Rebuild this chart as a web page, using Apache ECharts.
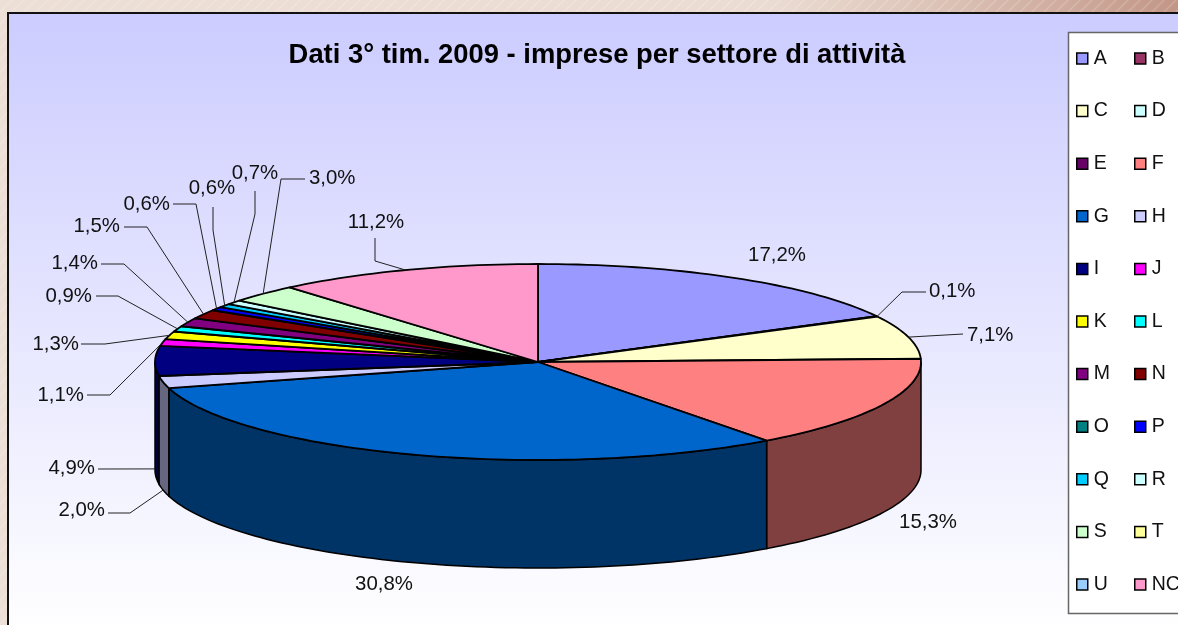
<!DOCTYPE html>
<html><head><meta charset="utf-8">
<style>html,body{margin:0;padding:0;background:#eadcd2}#c{width:1178px;height:625px}</style>
<script src="https://cdn.jsdelivr.net/npm/echarts@6/dist/echarts.min.js"></script>
</head><body><div id="c"></div>
<script>
const titleText = 'Dati 3° tim. 2009 - imprese per settore di attività';
const categories = ['A','B','C','D','E','F','G','H','I','J','K','L','M','N','O','P','Q','R','S','T','U','NC'];
const values = [17.2,0.1,7.1,0,0,15.3,30.8,2.0,4.9,1.1,1.3,0.9,1.4,1.5,0,0.6,0.6,0.7,3.0,0,0,11.2];
const colors = ['#9999ff','#993366','#ffffcc','#ccffff','#660066','#ff8080','#0066cc','#ccccff','#000080','#ff00ff','#ffff00','#00ffff','#800080','#800000','#008080','#0000ff','#00ccff','#ccffff','#ccffcc','#ffff99','#99ccff','#ff99cc'];
const wallColors = {F:'#804040',G:'#003366',H:'#666680',I:'#000040'};

// label placement: text anchor, leader bends, and whether the leader lands at the foot of the wall
const labelLayout = {
  A:{x:777,y:255,al:'center'},
  B:{x:929,y:291,al:'left',bend:[[926,292],[902,292]]},
  C:{x:967,y:335,al:'left',bend:[[963,334]]},
  F:{x:928,y:522,al:'center'},
  G:{x:384,y:584,al:'center'},
  H:{x:105,y:510,al:'right',bend:[[108,513],[130,513]],foot:1},
  I:{x:95,y:468,al:'right',bend:[[98,469]],foot:1},
  J:{x:84,y:395,al:'right',bend:[[87,395],[110,395]]},
  K:{x:79,y:344,al:'right',bend:[[81,344],[105,344]]},
  L:{x:92,y:296,al:'right',bend:[[96,296],[118,296]]},
  M:{x:98,y:263,al:'right',bend:[[101,264],[124,264]]},
  N:{x:120,y:226,al:'right',bend:[[124,227],[147,227]]},
  P:{x:170,y:204,al:'right',bend:[[173,204],[196,204]]},
  Q:{x:212,y:188,al:'center',bend:[[213,207],[213,230]]},
  R:{x:255,y:173,al:'center',bend:[[255,191],[255,214]]},
  S:{x:309,y:178,al:'left',bend:[[305,179],[281,179]]},
  NC:{x:376,y:222,al:'center',bend:[[375,238],[375,261]]}
};

const cx=538, cy=362, rx=383, ry=98, depth=108;
const total = values.reduce((a,b)=>a+b,0);
const starts=[]; { let c=0; values.forEach(v=>{starts.push(c/total*360); c+=v;}); }
const pt=(deg,dy=0)=>{const t=deg*Math.PI/180;return [cx+rx*Math.sin(t),cy-ry*Math.cos(t)+dy];};
const arcPts=(a,b,dy=0)=>{const n=Math.max(2,Math.ceil(Math.abs(b-a)/1.5));const r=[];for(let i=0;i<=n;i++)r.push(pt(a+(b-a)*i/n,dy));return r;};
const FONT='"Liberation Sans",Arial,sans-serif';

const stripe=document.createElement('canvas');stripe.width=stripe.height=12;
{const g=stripe.getContext('2d');g.strokeStyle='rgba(255,255,255,0.16)';g.lineWidth=1.6;
 g.beginPath();g.moveTo(-2,14);g.lineTo(14,-2);g.moveTo(-8,8);g.lineTo(8,-8);g.moveTo(4,20);g.lineTo(20,4);g.stroke();}

const series=[];
// walls
series.push({type:'custom',name:'_walls',coordinateSystem:'none',silent:true,z:2,animation:false,
 data:categories.map((c,i)=>[i,values[i]]),
 renderItem(p,api){
  const i=api.value(0),v=api.value(1);
  const a=Math.max(starts[i],90),b=Math.min(starts[i]+v/total*360,270);
  if(!(v>0)||b<=a) return {type:'group',children:[]};
  const top=arcPts(a,b),bot=arcPts(b,a,depth);
  return {type:'polygon',shape:{points:top.concat(bot)},style:{fill:wallColors[categories[i]]||colors[i],stroke:'#000',lineWidth:1.5}};
 }});
// top faces (one series per category, so the legend lists them all)
categories.forEach((c,i)=>{
 series.push({type:'custom',name:c,coordinateSystem:'none',silent:true,z:3,animation:false,
  itemStyle:{color:colors[i]},data:[[i,values[i]]],
  renderItem(p,api){
   const k=api.value(0),v=api.value(1);
   if(!(v>0)) return {type:'group',children:[]};
   const a=starts[k],b=a+v/total*360;
   return {type:'polygon',shape:{points:[[cx,cy]].concat(arcPts(a,b))},
     style:{fill:colors[k],stroke:'#000',lineWidth:1.8,lineJoin:'round'}};
  }});
});
// percent labels and leaders
series.push({type:'custom',name:'_labels',coordinateSystem:'none',silent:true,z:4,animation:false,
 data:categories.map((c,i)=>[i,values[i]]),
 renderItem(p,api){
  const i=api.value(0),v=api.value(1),L=labelLayout[categories[i]];
  if(!L) return {type:'group',children:[]};
  const ch=[{type:'text',style:{text:v.toFixed(1).replace('.',',')+'%',x:L.x,y:L.y,align:L.al,verticalAlign:'middle',font:'20.4px '+FONT,fill:'#111'}}];
  if(L.bend){
   const mid=starts[i]+v/total*180;
   ch.push({type:'polyline',shape:{points:L.bend.concat([pt(mid,L.foot?depth:0)])},style:{fill:'none',stroke:'#222',lineWidth:1}});
  }
  return {type:'group',children:ch};
 }});

const legendBase={orient:'vertical',top:47,height:570,padding:0,itemWidth:11,itemHeight:11,itemGap:29.6,selectedMode:false,icon:'rect',z:6,
 itemStyle:{borderColor:'#000',borderWidth:1.5},textStyle:{fontFamily:FONT,fontSize:19.5,color:'#111',lineHeight:20,padding:[0,0,3,1]}};

echarts.init(document.getElementById('c'),null,{renderer:'canvas'}).setOption({
 animation:false,
 title:{text:titleText,left:592,top:37,textAlign:'center',textStyle:{fontFamily:FONT,fontSize:27.4,fontWeight:'bold',color:'#000'}},
 legend:[
  Object.assign({},legendBase,{left:1076,data:categories.filter((c,i)=>i%2===0)}),
  Object.assign({},legendBase,{left:1134,data:categories.filter((c,i)=>i%2===1)})
 ],
 graphic:[
  {type:'rect',z:-5,shape:{x:0,y:0,width:1178,height:625},style:{fill:new echarts.graphic.LinearGradient(0,0,1,0,[{offset:0,color:'#ecdfd6'},{offset:0.65,color:'#ebdcd2'},{offset:0.8,color:'#dcc2b6'},{offset:1,color:'#c29686'}])}},
  {type:'rect',z:-4,shape:{x:0,y:0,width:1178,height:625},style:{fill:{image:stripe,repeat:'repeat'}}},
  {type:'rect',z:-3,shape:{x:8,y:13,width:1175,height:620},style:{fill:new echarts.graphic.LinearGradient(0,0,0,1,[{offset:0,color:'#ccccff'},{offset:1,color:'#ffffff'}]),stroke:'#111',lineWidth:2}},
  {type:'rect',z:-2,shape:{x:1068.5,y:32.5,width:130,height:581},style:{fill:'#ffffff',stroke:'#666',lineWidth:1.5}}
 ],
 series
});
</script></body></html>
